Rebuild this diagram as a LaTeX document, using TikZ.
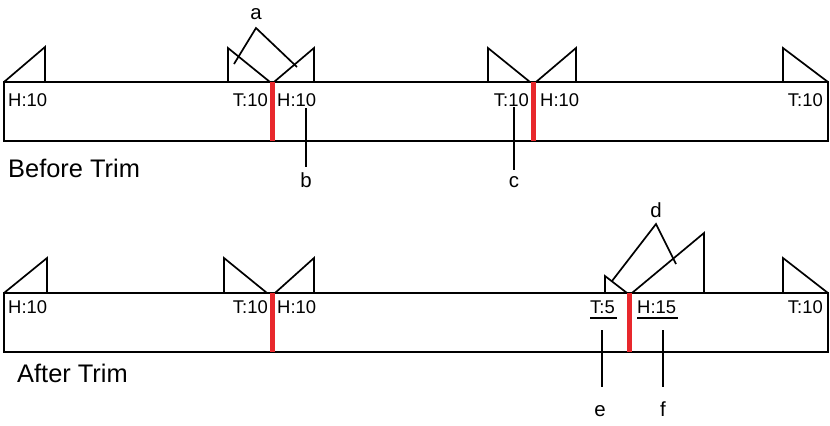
\documentclass[tikz,border=0pt]{standalone}
\usepackage{fontspec}
\setmainfont{Liberation Sans}
\definecolor{cutred}{RGB}{232,40,44}
\begin{document}
\begin{tikzpicture}[x=1bp,y=-1bp,
  outline/.style={draw=black,line width=1.7bp,line join=miter},
  cut/.style={draw=cutred,line width=5bp},
  lbl/.style={font=\fontsize{18.5}{18.5}\selectfont,inner sep=0pt},
  letter/.style={font=\fontsize{20.5}{20.5}\selectfont,inner sep=0pt},
  title/.style={font=\fontsize{25.5}{25.5}\selectfont,inner sep=0pt},
  callout/.style={draw=black,line width=1.7bp},
  uline/.style={draw=black,line width=1.3bp}]
\useasboundingbox (0,0) rectangle (830,425);

% ---------------- Before Trim ----------------
\draw[outline] (4,82) rectangle (828,141);
\draw[outline] (4,82) -- (45,47) -- (45,82);
\draw[outline] (228,82) -- (228,48) -- (270,82);
\draw[outline] (274,82) -- (314,48) -- (314,82);
\draw[outline] (488,82) -- (488,48) -- (530,82);
\draw[outline] (536,82) -- (576,48) -- (576,82);
\draw[outline] (783,82) -- (783,48) -- (828,82);
\draw[cut] (272,82) -- (272,141);
\draw[cut] (533,82) -- (533,141);

\node[lbl,anchor=base west] (h1) at (8,106) {H:10};
\node[lbl,anchor=base east] (t1) at (268,106) {T:10};
\node[lbl,anchor=base west] (h2) at (277,106) {H:10};
\node[lbl,anchor=base east] (t2) at (529,106) {T:10};
\node[lbl,anchor=base west] (h3) at (540,106) {H:10};
\node[lbl,anchor=base east] (t3) at (823,106) {T:10};
\node[title,anchor=base west] (before) at (8,177) {Before Trim};

\node[letter,anchor=base] (a) at (256,19) {a};
\coordinate (aapex) at (256,28);
\coordinate (aleft) at (234,64);
\coordinate (aright) at (297,67);
\draw[callout] (aleft) -- (aapex) -- (aright);

\node[letter,anchor=base] (b) at (306,187) {b};
\coordinate (btop) at (306,108);
\coordinate (bbot) at (306,167);
\draw[callout] (btop) -- (bbot);

\node[letter,anchor=base] (c) at (514,187) {c};
\coordinate (ctop) at (514,107);
\coordinate (cbot) at (514,170);
\draw[callout] (ctop) -- (cbot);

% ---------------- After Trim ----------------
\draw[outline] (4,293) rectangle (828,352);
\draw[outline] (4,293) -- (47,258) -- (47,293);
\draw[outline] (224,293) -- (224,258) -- (267,293);
\draw[outline] (275,293) -- (314,258) -- (314,293);
\draw[outline] (605,293) -- (605,276) -- (627,293);
\draw[outline] (632,293) -- (704,233) -- (704,293);
\draw[outline] (783,293) -- (783,258) -- (828,293);
\draw[cut] (272,293) -- (272,352);
\draw[cut] (629,293) -- (629,352);

\node[lbl,anchor=base west] (h4) at (8,313) {H:10};
\node[lbl,anchor=base east] (t4) at (268,313) {T:10};
\node[lbl,anchor=base west] (h5) at (277,313) {H:10};
\node[lbl,anchor=base east] (t5) at (615,313) {T:5};
\node[lbl,anchor=base west] (h6) at (637,313) {H:15};
\node[lbl,anchor=base east] (t6) at (823,313) {T:10};
\draw[uline] ([yshift=-5bp]t5.base west) -- ([yshift=-5bp,xshift=2bp]t5.base east);
\draw[uline] ([yshift=-5bp]h6.base west) -- ([yshift=-5bp,xshift=2bp]h6.base east);
\node[title,anchor=base west] (after) at (17,382) {After Trim};

\node[letter,anchor=base] (d) at (656,217) {d};
\coordinate (dapex) at (656,224);
\coordinate (dleft) at (612,281);
\coordinate (dright) at (676,264);
\draw[callout] (dleft) -- (dapex) -- (dright);

\node[letter,anchor=base] (e) at (600,416) {e};
\coordinate (etop) at (602,330);
\coordinate (ebot) at (602,387);
\draw[callout] (etop) -- (ebot);

\node[letter,anchor=base] (f) at (663,416) {f};
\coordinate (ftop) at (663,330);
\coordinate (fbot) at (663,387);
\draw[callout] (ftop) -- (fbot);
\end{tikzpicture}
\end{document}
